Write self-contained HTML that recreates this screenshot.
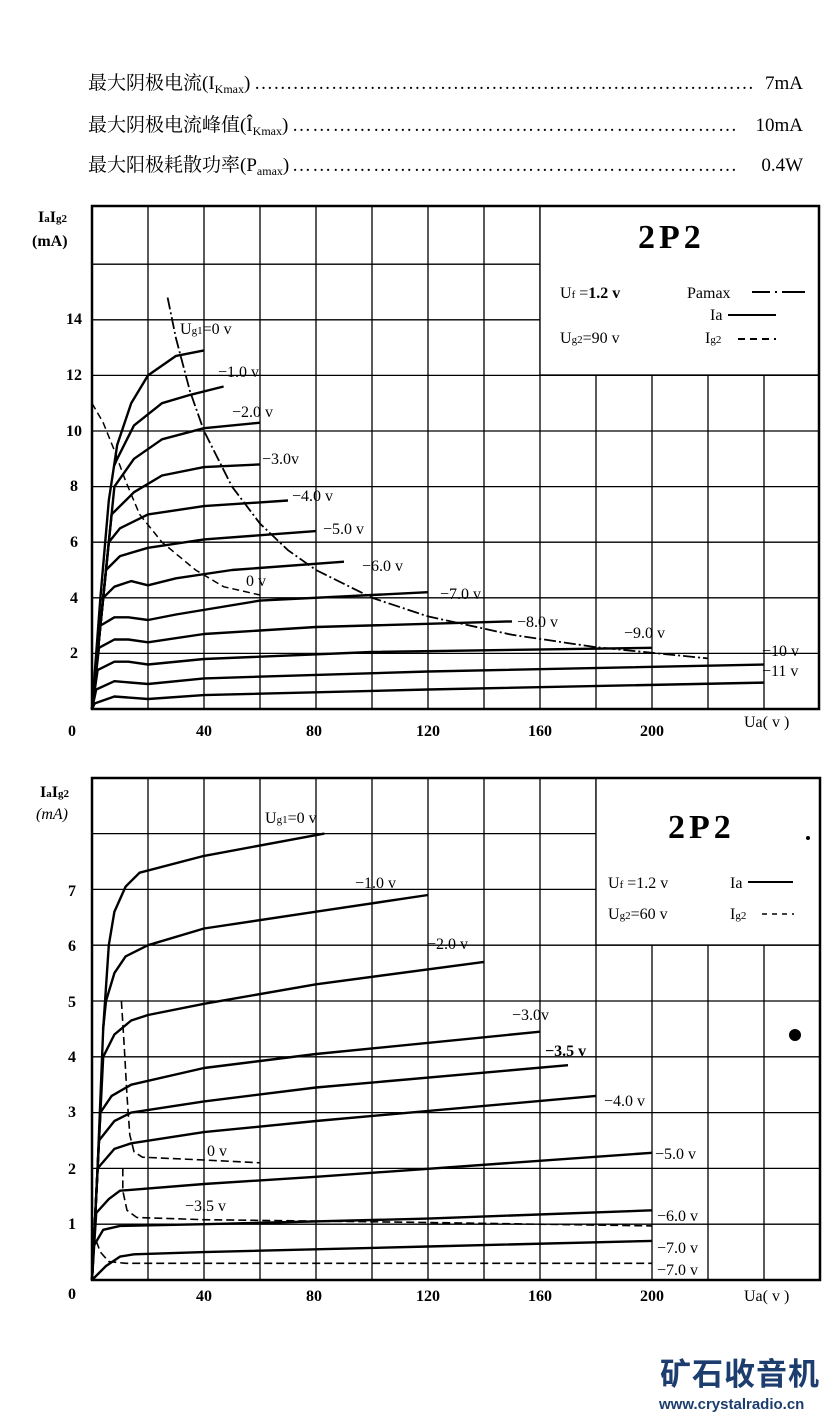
<!DOCTYPE html>
<html><head><meta charset="utf-8"><style>
body{margin:0;background:#fff;}
svg{display:block;}
text{font-family:"Liberation Serif","Noto Serif CJK SC",serif;fill:#000;}
.h{font-size:19px;}
.t{font-size:16px;font-weight:bold;}
.l{font-size:16px;}
</style></head><body>
<svg width="824" height="1416" viewBox="0 0 824 1416" xmlns="http://www.w3.org/2000/svg">
<rect width="824" height="1416" fill="#fff"/>
<!-- header -->
<text class="h" x="88" y="89">最大阴极电流(I<tspan font-size="12" dy="4">Kmax</tspan><tspan dy="-4">)</tspan></text>
<text class="h" x="254" y="89" textLength="500" lengthAdjust="spacing">……………………………………………………………………</text>
<text class="h" x="803" y="89" text-anchor="end">7mA</text>
<text class="h" x="88" y="131">最大阴极电流峰值(Î<tspan font-size="12" dy="4">Kmax</tspan><tspan dy="-4">)</tspan></text>
<text class="h" x="292" y="131" textLength="445" lengthAdjust="spacing">…………………………………………………………</text>
<text class="h" x="803" y="131" text-anchor="end">10mA</text>
<text class="h" x="88" y="171">最大阳极耗散功率(P<tspan font-size="12" dy="4">amax</tspan><tspan dy="-4">)</tspan></text>
<text class="h" x="292" y="171" textLength="445" lengthAdjust="spacing">…………………………………………………………</text>
<text class="h" x="803" y="171" text-anchor="end">0.4W</text>

<!-- TOP CHART -->
<g stroke="#000" stroke-width="1.3" fill="none">
<path d="M148 206V709M204 206V709M260 206V709M316 206V709M372 206V709M428 206V709M484 206V709M540 206V709M596 375V709M652 375V709M708 375V709M764 375V709"/>
<path d="M92 653.4H819M92 597.8H819M92 542.2H819M92 486.6H819M92 431H819M92 375.4H819M92 319.8H540M92 264.2H540"/>
<rect x="540" y="206" width="279" height="169" fill="#fff"/>
<rect x="92" y="206" width="727" height="503" stroke-width="2.5"/>
</g>
<g stroke="#000" stroke-width="2.4" fill="none" stroke-linejoin="round">
<polyline points="92,709 100.4,597.8 108.8,500.5 117.2,444.9 131.2,403.2 148,375.4 176,355.9 204,350.4"/>
<polyline points="114,466 117.2,458.8 134,425.4 162,403.2 190,394.9 223.6,386.5"/>
<polyline points="92,709 114.4,486.6 134,458.8 162,439.3 204,428.2 260,422.7"/>
<polyline points="92,709 111.6,514.4 134,492.2 162,475.5 204,467.1 260,464.4"/>
<polyline points="92,709 108.8,542.2 120,528.3 148,514.4 204,506.1 288,500.5"/>
<polyline points="92,709 106,570 120,556.1 148,547.8 204,539.4 316,531.1"/>
<polyline points="92,709 103.2,597.8 114.4,586.7 131.2,581.1 148,585.3 176,578.3 232,570 344,561.7"/>
<polyline points="92,709 100.4,625.6 114.4,617.3 128.4,617.3 148,620 176,614.5 260,600.6 428,592.2"/>
<polyline points="92,709 99,647.8 114.4,639.5 128.4,639.5 148,642.3 204,634 316,627 512,621.4"/>
<polyline points="92,709 97.6,670.1 114.4,661.7 128.4,661.7 148,664.5 204,659 372,652 652,647.8"/>
<polyline points="92,709 96.2,689.5 114.4,681.2 148,684 204,678.4 428,671.5 764,664.5"/>
<polyline points="92,709 94.8,703.4 114.4,696.5 148,699 204,695.1 428,689.5 764,682.6"/>
</g>
<polyline stroke="#000" stroke-width="1.8" fill="none" stroke-dasharray="12,3,2,3" points="167.6,297.6 176,338.4 190,391.3 204,431 232,486.6 260,523.6 288,550.2 316,570 372,597.8 428,616.4 512,634.8 596,647.2 708,658.4"/>
<polyline stroke="#000" stroke-width="1.5" fill="none" stroke-dasharray="7,4" points="92,403.2 103.2,422.7 114.4,450.5 125.6,481 139.6,514.4 162,542.2 195.6,570 223.6,586.7 260,595"/>
<g class="t">
<text x="74" y="324" text-anchor="middle">14</text>
<text x="74" y="380" text-anchor="middle">12</text>
<text x="74" y="436" text-anchor="middle">10</text>
<text x="74" y="491" text-anchor="middle">8</text>
<text x="74" y="547" text-anchor="middle">6</text>
<text x="74" y="603" text-anchor="middle">4</text>
<text x="74" y="658" text-anchor="middle">2</text>
<text x="72" y="736" text-anchor="middle">0</text>
<text x="204" y="736" text-anchor="middle">40</text>
<text x="314" y="736" text-anchor="middle">80</text>
<text x="428" y="736" text-anchor="middle">120</text>
<text x="540" y="736" text-anchor="middle">160</text>
<text x="652" y="736" text-anchor="middle">200</text>
</g>
<text class="l" x="744" y="727">Ua( v )</text>
<text class="t" x="38" y="222">I<tspan font-size="11">a</tspan>I<tspan font-size="11">g2</tspan></text>
<text class="t" x="32" y="246">(mA)</text>
<text x="638" y="248" font-size="34" font-weight="bold" letter-spacing="4">2P2</text>
<text class="l" x="560" y="298">U<tspan font-size="11">f</tspan> =<tspan font-weight="bold">1.2 v</tspan></text>
<text class="l" x="687" y="298">Pamax</text>
<path d="M752 292H770M775 292h2M782 292H805" stroke="#000" stroke-width="2"/>
<text class="l" x="710" y="320">Ia</text>
<path d="M728 315H776" stroke="#000" stroke-width="2"/>
<text class="l" x="560" y="343">U<tspan font-size="11">g2</tspan>=90 v</text>
<text class="l" x="705" y="343">I<tspan font-size="11">g2</tspan></text>
<path d="M738 339H776" stroke="#000" stroke-width="2" stroke-dasharray="7,5"/>
<g class="l">
<text x="180" y="334">U<tspan font-size="11">g1</tspan>=0 v</text>
<text x="218" y="377">−1.0 v</text>
<text x="232" y="417">−2.0 v</text>
<text x="262" y="464">−3.0v</text>
<text x="292" y="501">−4.0 v</text>
<text x="323" y="534">−5.0 v</text>
<text x="362" y="571">−6.0 v</text>
<text x="440" y="599">−7.0 v</text>
<text x="517" y="627">−8.0 v</text>
<text x="624" y="638">−9.0 v</text>
<text x="762" y="656">−10 v</text>
<text x="762" y="676">−11 v</text>
<text x="246" y="586">0 v</text>
</g>

<!-- BOTTOM CHART -->
<g stroke="#000" stroke-width="1.3" fill="none">
<path d="M148 778V1280M204 778V1280M260 778V1280M316 778V1280M372 778V1280M428 778V1280M484 778V1280M540 778V1280M596 778V1280M652 945V1280M708 945V1280M764 945V1280"/>
<path d="M92 1224.2H820M92 1168.4H820M92 1112.6H820M92 1056.8H820M92 1001H820M92 945.2H820M92 889.4H596M92 833.6H596"/>
<rect x="596" y="778" width="224" height="167" fill="#fff"/>
<rect x="92" y="778" width="728" height="502" stroke-width="2.5"/>
</g>
<g stroke="#000" stroke-width="2.4" fill="none" stroke-linejoin="round">
<polyline points="92,1280 97.6,1168.4 103.2,1028.9 108.8,945.2 114.4,911.7 125.6,886.6 139.6,872.7 204,855.9 324.4,833.6"/>
<polyline points="103,1030 106,1001 114.4,973.1 125.6,956.4 148,945.2 204,928.5 316,911.7 428,895"/>
<polyline points="92,1280 103.2,1056.8 114.4,1034.5 131.2,1020.5 148,1015 204,1003.8 316,984.3 484,961.9"/>
<polyline points="92,1280 100.4,1112.6 111.6,1095.9 131.2,1084.7 204,1068 316,1054 540,1031.7"/>
<polyline points="92,1280 99,1140.5 114.4,1121 131.2,1112.6 204,1101.4 316,1087.5 568,1065.2"/>
<polyline points="92,1280 97.6,1168.4 114.4,1148.9 131.2,1143.3 204,1132.1 316,1121 596,1095.9"/>
<polyline points="92,1280 96.2,1213 108.8,1199.1 120,1190.7 204,1184 316,1176.8 652,1152.8"/>
<polyline points="92,1280 93.4,1246.5 103.2,1229.8 120,1225.9 204,1224.2 428,1218.6 652,1210.3"/>
<polyline points="92,1280 106,1266 120,1256.6 134,1254.3 204,1252.1 428,1246.5 652,1240.9"/>
</g>
<g stroke="#000" stroke-width="1.6" fill="none" stroke-dasharray="8,4">
<polyline points="121.4,1001 124.2,1045.6 127,1095.9 129.8,1134.9 134,1151.7 142.4,1157.2 204,1160 260,1162.8"/>
<polyline points="122.8,1168.4 122.8,1190.7 127,1210.3 136.8,1217.5 204,1219.7 428,1222.5 652,1225.9"/>
<polyline points="92,1229.8 100.4,1252.1 108.8,1261.6 125.6,1263.3 652,1263.3"/>
</g>
<g class="t">
<text x="72" y="896" text-anchor="middle">7</text>
<text x="72" y="951" text-anchor="middle">6</text>
<text x="72" y="1007" text-anchor="middle">5</text>
<text x="72" y="1062" text-anchor="middle">4</text>
<text x="72" y="1117" text-anchor="middle">3</text>
<text x="72" y="1174" text-anchor="middle">2</text>
<text x="72" y="1229" text-anchor="middle">1</text>
<text x="72" y="1299" text-anchor="middle">0</text>
<text x="204" y="1301" text-anchor="middle">40</text>
<text x="314" y="1301" text-anchor="middle">80</text>
<text x="428" y="1301" text-anchor="middle">120</text>
<text x="540" y="1301" text-anchor="middle">160</text>
<text x="652" y="1301" text-anchor="middle">200</text>
</g>
<text class="l" x="744" y="1301">Ua( v )</text>
<text class="t" x="40" y="797">I<tspan font-size="11">a</tspan>I<tspan font-size="11">g2</tspan></text>
<text class="l" x="36" y="819" font-style="italic">(mA)</text>
<text x="668" y="838" font-size="34" font-weight="bold" letter-spacing="4">2P2</text>
<circle cx="808" cy="838" r="2" fill="#000"/>
<circle cx="795" cy="1035" r="6" fill="#000"/>
<text class="l" x="608" y="888">U<tspan font-size="11">f</tspan> =1.2 v</text>
<text class="l" x="730" y="888">Ia</text>
<path d="M748 882H793" stroke="#000" stroke-width="2"/>
<text class="l" x="608" y="919">U<tspan font-size="11">g2</tspan>=60 v</text>
<text class="l" x="730" y="919">I<tspan font-size="11">g2</tspan></text>
<path d="M762 914H794" stroke="#000" stroke-width="1.6" stroke-dasharray="5,5"/>
<g class="l">
<text x="265" y="823">U<tspan font-size="11">g1</tspan>=0 v</text>
<text x="355" y="888">−1.0 v</text>
<text x="427" y="949">−2.0 v</text>
<text x="512" y="1020">−3.0v</text>
<text x="545" y="1056" font-weight="bold">−3.5 v</text>
<text x="604" y="1106">−4.0 v</text>
<text x="655" y="1159">−5.0 v</text>
<text x="657" y="1221">−6.0 v</text>
<text x="657" y="1253">−7.0 v</text>
<text x="657" y="1275">−7.0 v</text>
<text x="207" y="1156">0 v</text>
<text x="185" y="1211">−3.5 v</text>
</g>

<!-- watermark -->
<text x="660" y="1385" font-size="31" font-weight="bold" letter-spacing="1" style="fill:#1c3d6e;font-family:'Noto Sans CJK SC',sans-serif">矿石收音机</text>
<text x="659" y="1409" font-size="15" font-weight="bold" style="fill:#1c3d6e;font-family:'Liberation Sans',sans-serif">www.crystalradio.cn</text>
</svg>
</body></html>
